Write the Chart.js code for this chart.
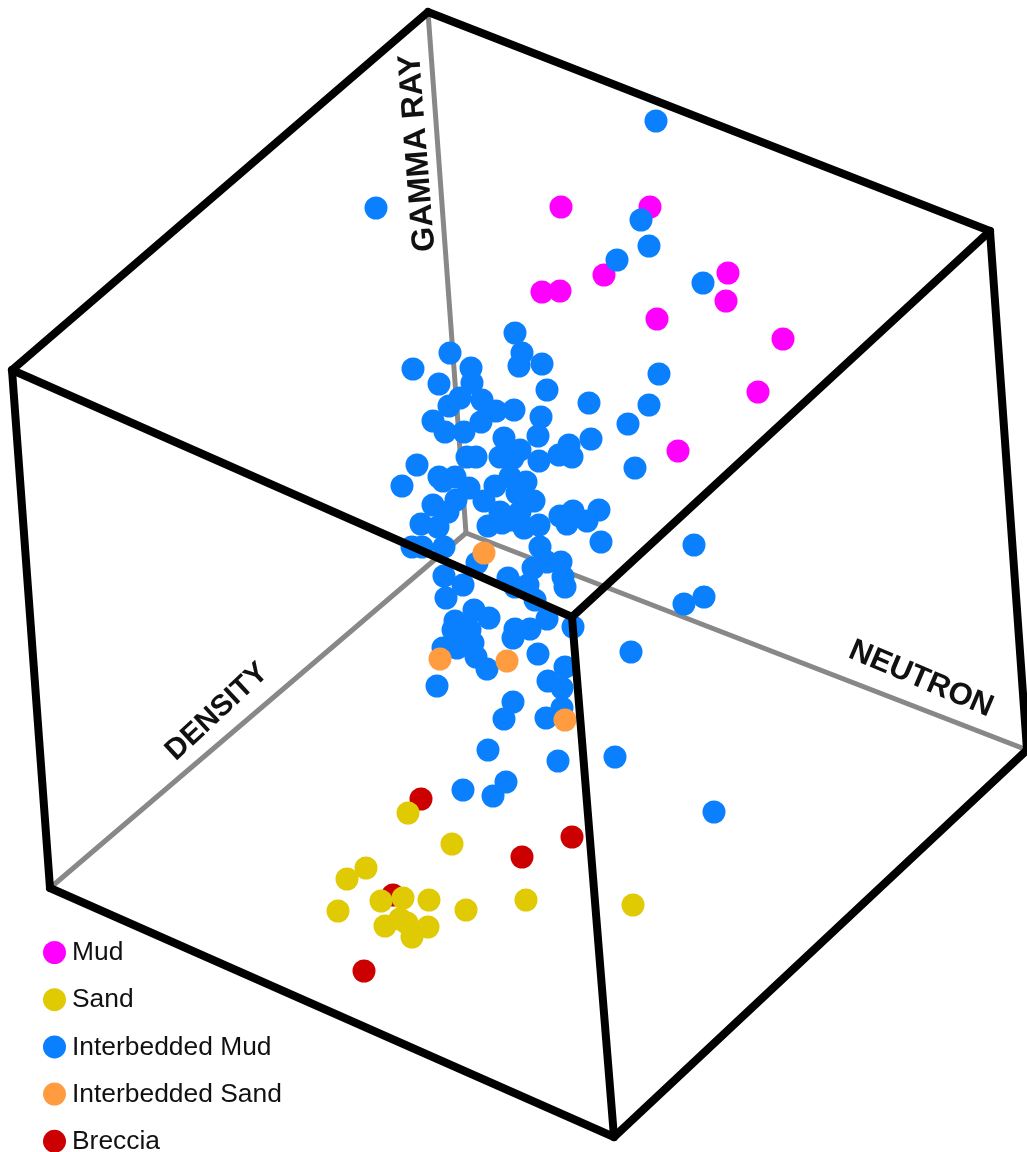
<!DOCTYPE html>
<html>
<head>
<meta charset="utf-8">
<title>Facies crossplot</title>
<script src="https://cdn.jsdelivr.net/npm/chart.js@4"></script>
<style>
    html, body { margin: 0; padding: 0; background: #fff; overflow: hidden; }
    #wrap { width: 1027px; height: 1152px; }
</style>
</head>
<body>
<div id="wrap"><canvas id="cubeChart"></canvas></div>
<script>
// Points: [across, down]
const mudPoints = [[561,207],[650,207],[542,292],[560,291],[604,275],[728,273],[726,301],[657,319],[783,339],[758,392],[678,451]];

const sandPoints = [[408,813],[452,844],[366,868],[347,879],[338,911],[381,901],[403,898],[429,900],[466,910],[526,900],[633,905],
    [385,926],[400,919],[407,923],[428,927],[412,937]];

const interbeddedMudPoints = [[656,121],[376,208],[641,220],[649,246],[617,260],[703,283],[659,374],[649,405],
    [515,333],[522,353],[519,366],[542,364],[450,353],[413,369],[471,368],[439,384],[472,383],[547,390],[589,403],
    [460,398],[449,406],[482,400],[496,411],[514,410],[481,422],[433,421],[445,432],[464,432],[541,417],[538,436],
    [628,424],[591,439],[504,438],[569,445],[559,455],[572,457],[539,461],[520,450],[500,457],[467,457],[476,457],
    [513,458],[417,465],[635,468],[402,486],[439,477],[443,481],[455,477],[469,488],[495,486],[510,477],[526,482],
    [517,493],[534,501],[456,500],[484,501],[433,505],[448,512],[421,524],[438,527],[500,512],[520,512],[488,526],
    [502,523],[513,520],[524,528],[539,525],[560,516],[573,511],[567,524],[587,521],[599,510],[601,542],[540,547],
    [412,547],[422,547],[444,547],[477,563],[444,576],[463,585],[446,598],[508,578],[533,568],[547,562],[561,562],
    [563,577],[565,587],[528,585],[515,587],[535,600],[547,619],[573,627],[474,610],[489,618],[455,621],[453,630],
    [470,630],[515,629],[513,638],[530,629],[473,643],[457,648],[443,648],[476,657],[487,669],[538,654],[631,652],
    [565,667],[548,681],[562,688],[437,686],[513,702],[504,719],[562,708],[546,718],[488,750],[615,757],[558,761],
    [506,782],[493,796],[463,790],[714,812],[694,545],[704,597],[684,604]];

const interbeddedSandPoints = [[484,553],[440,659],[507,661],[565,720]];

const brecciaPoints = [[421,799],[522,857],[572,837],[393,895],[364,971]];

// Cube corners
const cornerTop = [428,12];
const cornerRight = [990,231];
const cornerLeft = [12,370];
const cornerFront = [572,617];
const cornerLeftLow = [50,888];
const cornerBottom = [614,1137];
const cornerRightLow = [1027,750];
const cornerBack = [466,533];

const frontEdges = [
    [cornerLeft, cornerTop], [cornerTop, cornerRight], [cornerRight, cornerFront], [cornerFront, cornerLeft],
    [cornerLeft, cornerLeftLow], [cornerLeftLow, cornerBottom], [cornerBottom, cornerRightLow],
    [cornerRightLow, cornerRight], [cornerFront, cornerBottom]
];
const backEdges = [[cornerBack, cornerTop], [cornerBack, cornerLeftLow], [cornerBack, cornerRightLow]];

const legendNames = ['Mud', 'Sand', 'Interbedded Mud', 'Interbedded Sand', 'Breccia'];
const axisNames = ['GAMMA RAY', 'DENSITY', 'NEUTRON'];

const colors = {
    mud: '#ff00ff',
    sand: '#dfca04',
    interbeddedMud: '#0a80ff',
    interbeddedSand: '#ff9c40',
    breccia: '#cc0000',
    edge: '#000000',
    backEdge: '#888888'
};
const legendColors = [colors.mud, colors.sand, colors.interbeddedMud, colors.interbeddedSand, colors.breccia];

const toXY = pts => pts.map(p => ({ x: p[0], y: p[1] }));

function pointSet(label, pts, color, order) {
    return {
        label: label,
        data: toXY(pts),
        backgroundColor: color,
        borderWidth: 0,
        pointRadius: 11.5,
        order: order
    };
}

function edgeSet(edge, color, width, order) {
    return {
        data: toXY(edge),
        showLine: true,
        borderColor: color,
        borderWidth: width,
        borderCapStyle: 'round',
        pointRadius: 0,
        order: order
    };
}

// Axis titles and the legend sit on the canvas at fixed places
const cubeLabels = {
    id: 'cubeLabels',
    afterDraw(chart) {
        const c = chart.ctx;
        c.save();
        c.fillStyle = '#111';
        c.textAlign = 'center';
        c.textBaseline = 'middle';
        const spots = [[418, 153, -94.5, 32], [217, 712, -43, 29.5], [921, 679, 23, 31]];
        axisNames.forEach((name, i) => {
            c.save();
            c.font = 'bold ' + spots[i][3] + 'px "Liberation Sans"';
            c.translate(spots[i][0], spots[i][1]);
            c.rotate(spots[i][2] * Math.PI / 180);
            c.fillText(name, 0, 0);
            c.restore();
        });

        c.textAlign = 'left';
        c.font = '26.4px "Liberation Sans"';
        legendNames.forEach((name, i) => {
            const y = 952.5 + i * 47.2;
            c.fillStyle = legendColors[i];
            c.beginPath();
            c.arc(54.5, y, 11.5, 0, Math.PI * 2);
            c.fill();
            c.fillStyle = '#111';
            c.fillText(name, 72, y + 0.5);
        });
        c.restore();
    }
};

const ctx = document.getElementById('cubeChart');
const context = ctx.getContext('2d');

new Chart(context, {
    type: 'scatter',
    data: {
        datasets: [
            ...backEdges.map(e => edgeSet(e, colors.backEdge, 5, 7)),
            pointSet('Mud', mudPoints, colors.mud, 6),
            pointSet('Breccia', brecciaPoints, colors.breccia, 5),
            pointSet('Sand', sandPoints, colors.sand, 4),
            pointSet('Interbedded Mud', interbeddedMudPoints, colors.interbeddedMud, 3),
            pointSet('Interbedded Sand', interbeddedSandPoints, colors.interbeddedSand, 2),
            ...frontEdges.map(e => edgeSet(e, colors.edge, 8, 1))
        ]
    },
    options: {
        responsive: true,
        maintainAspectRatio: false,
        animation: false,
        layout: { padding: 0, autoPadding: false },
        plugins: {
            legend: { display: false },
            tooltip: { enabled: false }
        },
        scales: {
            x: { type: 'linear', min: 0, max: 1027, display: false },
            y: { type: 'linear', min: 0, max: 1152, reverse: true, display: false }
        }
    },
    plugins: [cubeLabels]
});
</script>
</body>
</html>
